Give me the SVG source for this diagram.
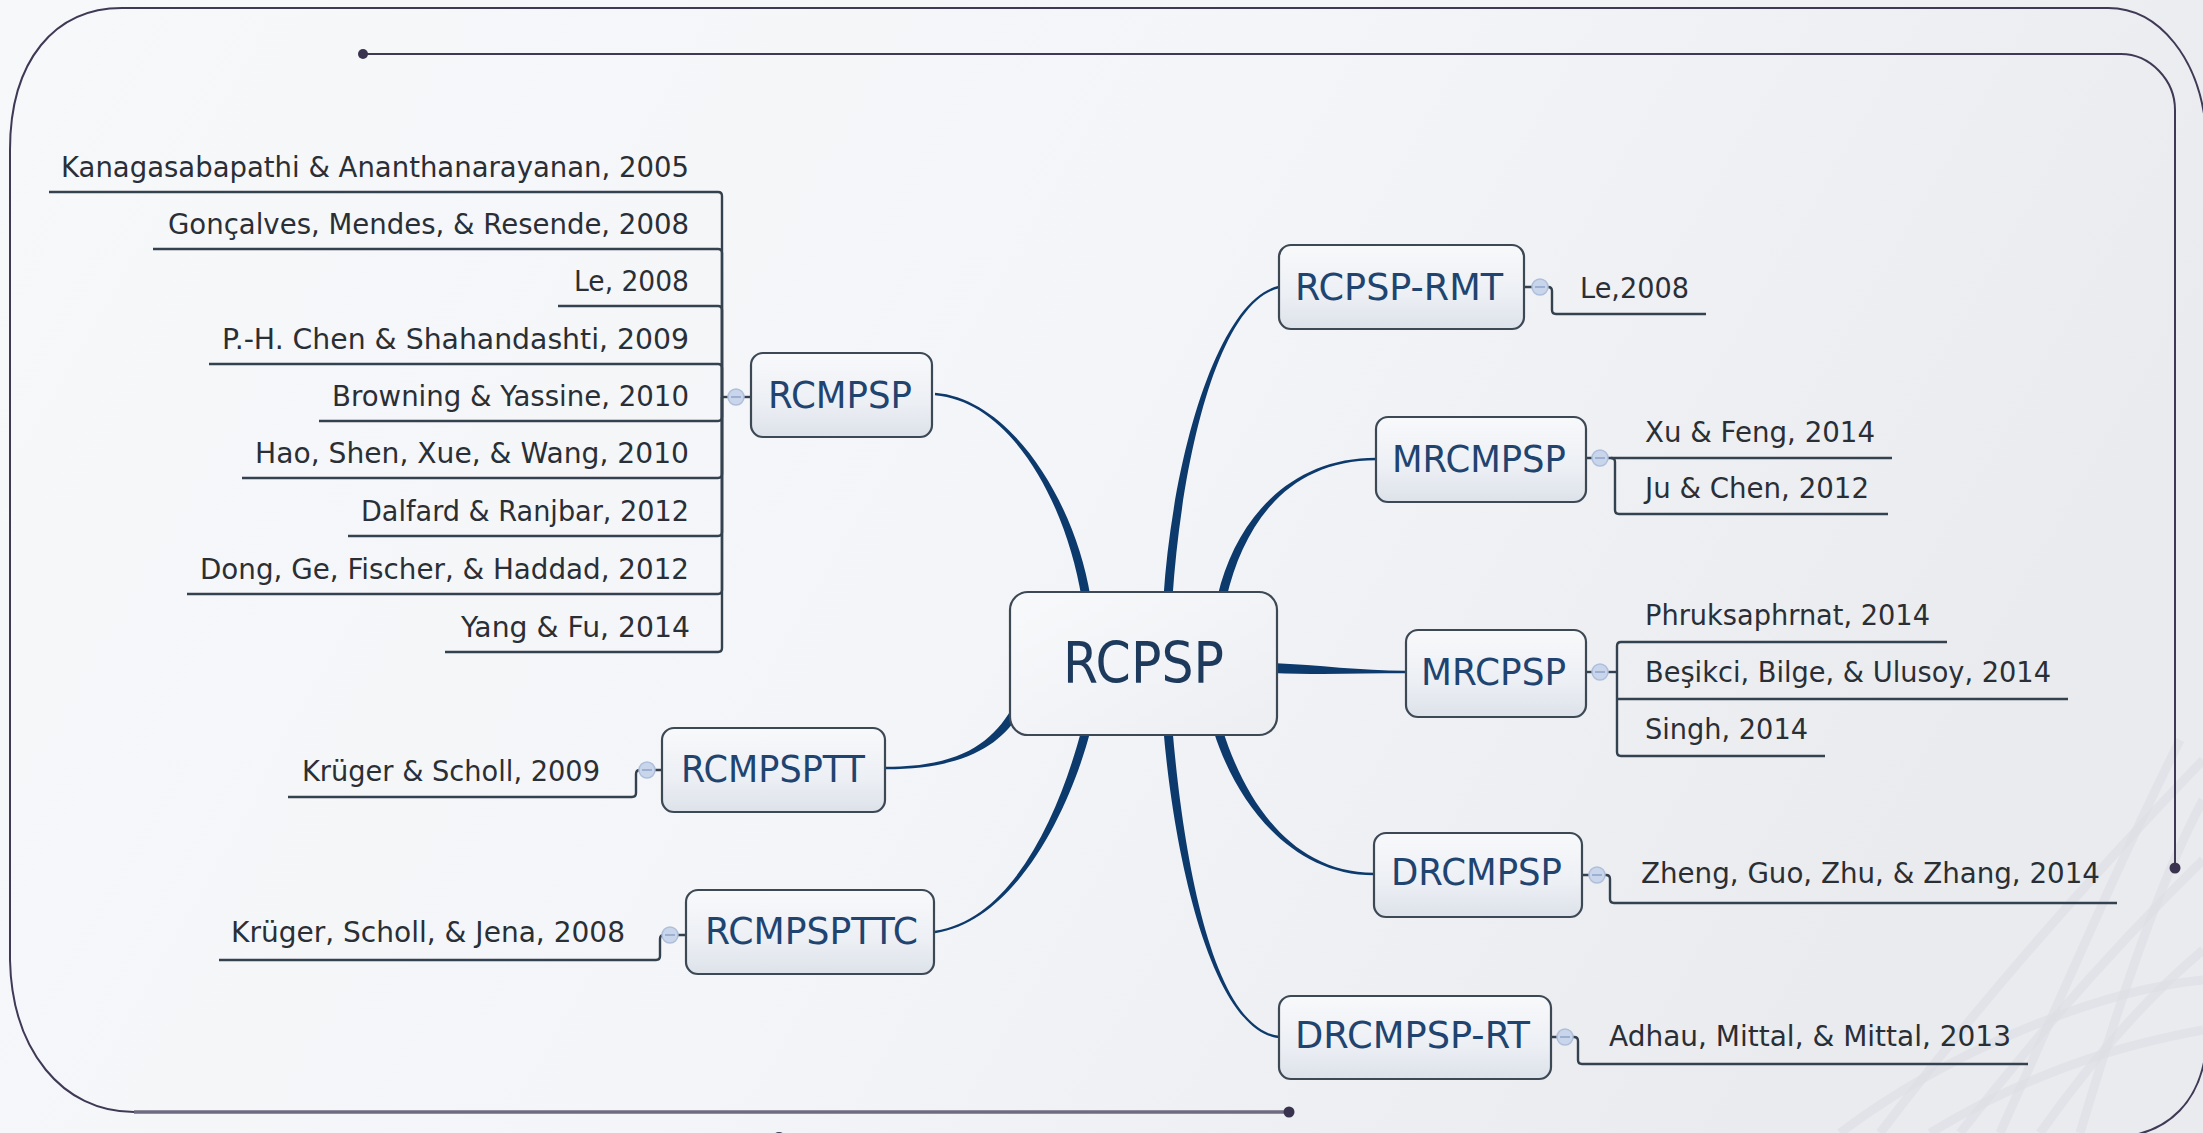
<svg xmlns="http://www.w3.org/2000/svg" width="2203" height="1133" viewBox="0 0 2203 1133">
  <defs>
    <linearGradient id="bg" x1="0" y1="0" x2="1" y2="0.3">
      <stop offset="0" stop-color="#f7f8fa"/>
      <stop offset="0.55" stop-color="#f4f5f8"/>
      <stop offset="1" stop-color="#e9ebef"/>
    </linearGradient>
    <linearGradient id="boxFill" x1="0" y1="0" x2="0" y2="1">
      <stop offset="0" stop-color="#f8f9fb"/>
      <stop offset="0.6" stop-color="#eceff4"/>
      <stop offset="1" stop-color="#dde2ea"/>
    </linearGradient>
    <linearGradient id="rootFill" x1="0" y1="0" x2="1" y2="1">
      <stop offset="0" stop-color="#f8f9fb"/>
      <stop offset="1" stop-color="#eceef2"/>
    </linearGradient>
    <g id="collapse">
      <circle r="8" fill="#c9d5ea" stroke="#aebfdc" stroke-width="1.5"/>
      <line x1="-5" y1="0" x2="5" y2="0" stroke="#8ea3c9" stroke-width="1.5"/>
    </g>
  </defs>
  <style>
    .frame { fill: none; stroke: #3f3955; stroke-width: 2; }
    .frame-bottom { fill: none; stroke: #6f6a82; stroke-width: 3.5; }
    .dot { fill: #3a3350; }
    .weave { fill: none; stroke: #dedde5; stroke-width: 9; opacity: 0.6; }
    .branch { fill: #0d3a6c; }
    .leafline { fill: none; stroke: #34414f; stroke-width: 2.4; }
    .box { fill: url(#boxFill); stroke: #3d4855; stroke-width: 2.2; }
    .root { fill: url(#rootFill); stroke: #3d4855; stroke-width: 2.2; }
    .label { font-family: "DejaVu Sans", "Liberation Sans", sans-serif; font-size: 38px; fill: #1f4470; }
    .rootlabel { font-family: "DejaVu Sans", "Liberation Sans", sans-serif; font-size: 57px; fill: #1d3a5c; }
    .leaf { font-family: "DejaVu Sans", "Liberation Sans", sans-serif; font-size: 28px; fill: #2a2f36; }
  </style>

  <!-- backdrop -->
  <rect x="0" y="0" width="2203" height="1133" fill="url(#bg)"/>
  <g id="backdrop-weave">
    <path class="weave" d="M1880,1133 Q2020,950 2203,760"/>
    <path class="weave" d="M1960,1133 Q2080,980 2203,860"/>
    <path class="weave" d="M2040,1133 Q2120,1020 2203,950"/>
    <path class="weave" d="M1840,1133 C1950,1050 2100,990 2203,980"/>
    <path class="weave" d="M1930,1133 C2050,1060 2150,1040 2203,1030"/>
    <path class="weave" d="M2080,1133 C2120,1000 2160,880 2203,800"/>
    <path class="weave" d="M2000,1133 C2060,1000 2120,860 2180,740"/>
  </g>

  <!-- decorative frame -->
  <g id="frame">
    <path class="frame" d="M1289,1112 H134 C62,1112 12,1050 10,960 V150 C10,60 55,8 122,8 H2108 C2160,8 2200,60 2206,130 V1050 C2200,1100 2170,1133 2120,1137"/>
    <path class="frame-bottom" d="M1289,1112 H134"/>
    <path class="frame" d="M363,54 H2121 C2150,54 2175,80 2175,110 V868"/>
    <circle class="dot" cx="1289" cy="1112" r="5.5"/>
    <circle class="dot" cx="363" cy="54" r="5"/>
    <circle class="dot" cx="2175" cy="868" r="5.5"/>
    <circle class="dot" cx="779" cy="1139" r="7"/>
  </g>

  <!-- connectors -->
  <g id="connectors">
    <!-- tapered main branches from the root -->
    <path class="branch" d="M1090.4,596.3 C1074.4,499.3 1010.1,398.8 935.1,392.8 L934.9,395.3 C1009.9,401.3 1065.6,500.7 1081.6,597.7 Z"/>
    <path class="branch" d="M1011.2,709.7 C991.2,742.7 960,766.8 886,766.8 L886,769.3 C960,769.3 998.9,747.3 1018.9,714.3 Z"/>
    <path class="branch" d="M1081.7,728.9 C1060.7,808.9 1014.8,918.8 934.8,930.8 L935.2,933.2 C1015.2,921.2 1069.4,811.1 1090.4,731.1 Z"/>
    <path class="branch" d="M1163.5,730.4 C1175.5,870.4 1214.9,1031.2 1278.9,1038.2 L1279.1,1035.8 C1215.1,1028.8 1184.5,869.6 1172.5,729.6 Z"/>
    <path class="branch" d="M1213.7,731.4 C1235.7,801.4 1290,875.3 1374,875.3 L1374,872.8 C1290,872.8 1244.3,798.7 1222.3,728.7 Z"/>
    <path class="branch" d="M1271.8,673 C1319.8,675 1360,673.3 1406,673.3 L1406,670.8 C1360,670.8 1320.2,665 1272.2,663 Z"/>
    <path class="branch" d="M1226.4,598 C1244.4,521 1290,460.3 1376,460.3 L1376,457.8 C1290,457.8 1235.6,519 1217.6,596 Z"/>
    <path class="branch" d="M1172.5,597.3 C1182.5,450.3 1220.3,301.2 1279.3,288.2 L1278.7,285.8 C1219.7,298.8 1173.5,449.7 1163.5,596.7 Z"/>

    <!-- RCMPSP leaf brackets -->
    <path class="leafline" d="M722,397 H751"/>
    <path class="leafline" d="M49,192 H718 Q722,192 722,196 V397"/>
    <path class="leafline" d="M153,249 H718 Q722,249 722,253 V397"/>
    <path class="leafline" d="M558,306 H718 Q722,306 722,310 V397"/>
    <path class="leafline" d="M209,364 H718 Q722,364 722,368 V397"/>
    <path class="leafline" d="M319,421 H718 Q722,421 722,417 V397"/>
    <path class="leafline" d="M242,478 H718 Q722,478 722,474 V397"/>
    <path class="leafline" d="M348,536 H718 Q722,536 722,532 V397"/>
    <path class="leafline" d="M187,594 H718 Q722,594 722,590 V397"/>
    <path class="leafline" d="M445,652 H718 Q722,652 722,648 V397"/>

    <!-- RCMPSPTT / RCMPSPTTC leaf brackets -->
    <path class="leafline" d="M662,770 H640 Q636,770 636,774 V793 Q636,797 632,797 H288"/>
    <path class="leafline" d="M686,935 H664 Q660,935 660,939 V956 Q660,960 656,960 H219"/>

    <!-- right-hand leaf brackets -->
    <path class="leafline" d="M1524,287 H1548 Q1552,287 1552,291 V310 Q1552,314 1556,314 H1706"/>
    <path class="leafline" d="M1586,458 H1892"/>
    <path class="leafline" d="M1611,458 Q1615,458 1615,462 V510 Q1615,514 1619,514 H1888"/>
    <path class="leafline" d="M1586,672 H1617"/>
    <path class="leafline" d="M1947,642 H1621 Q1617,642 1617,646 V752 Q1617,756 1621,756 H1825"/>
    <path class="leafline" d="M1617,699 H2068"/>
    <path class="leafline" d="M1582,875 H1606 Q1610,875 1610,879 V899 Q1610,903 1614,903 H2117"/>
    <path class="leafline" d="M1551,1037 H1574 Q1578,1037 1578,1041 V1060 Q1578,1064 1582,1064 H2028"/>
  </g>

  <!-- root topic -->
  <g id="node-rcpsp">
    <rect class="root" x="1010" y="592" width="267" height="143" rx="18"/>
    <text class="rootlabel" x="1063" y="683" textLength="161" lengthAdjust="spacingAndGlyphs">RCPSP</text>
  </g>

  <!-- main topics -->
  <g id="node-rcmpsp">
    <rect class="box" x="751" y="353" width="181" height="84" rx="12"/>
    <text class="label" x="768" y="408" textLength="144" lengthAdjust="spacingAndGlyphs">RCMPSP</text>
    <use href="#collapse" x="736" y="397"/>
  </g>
  <g id="node-rcmpsptt">
    <rect class="box" x="662" y="728" width="223" height="84" rx="12"/>
    <text class="label" x="681" y="782" textLength="184" lengthAdjust="spacingAndGlyphs">RCMPSPTT</text>
    <use href="#collapse" x="647" y="770"/>
  </g>
  <g id="node-rcmpspttc">
    <rect class="box" x="686" y="890" width="248" height="84" rx="12"/>
    <text class="label" x="705" y="944" textLength="213" lengthAdjust="spacingAndGlyphs">RCMPSPTTC</text>
    <use href="#collapse" x="670" y="935"/>
  </g>
  <g id="node-rcpsp-rmt">
    <rect class="box" x="1279" y="245" width="245" height="84" rx="12"/>
    <text class="label" x="1295" y="300" textLength="208" lengthAdjust="spacingAndGlyphs">RCPSP-RMT</text>
    <use href="#collapse" x="1540" y="287"/>
  </g>
  <g id="node-mrcmpsp">
    <rect class="box" x="1376" y="417" width="210" height="85" rx="12"/>
    <text class="label" x="1392" y="472" textLength="174" lengthAdjust="spacingAndGlyphs">MRCMPSP</text>
    <use href="#collapse" x="1600" y="458"/>
  </g>
  <g id="node-mrcpsp">
    <rect class="box" x="1406" y="630" width="180" height="87" rx="12"/>
    <text class="label" x="1421" y="685" textLength="145" lengthAdjust="spacingAndGlyphs">MRCPSP</text>
    <use href="#collapse" x="1600" y="672"/>
  </g>
  <g id="node-drcmpsp">
    <rect class="box" x="1374" y="833" width="208" height="84" rx="12"/>
    <text class="label" x="1391" y="885" textLength="171" lengthAdjust="spacingAndGlyphs">DRCMPSP</text>
    <use href="#collapse" x="1597" y="875"/>
  </g>
  <g id="node-drcmpsp-rt">
    <rect class="box" x="1279" y="996" width="272" height="83" rx="12"/>
    <text class="label" x="1295" y="1048" textLength="235" lengthAdjust="spacingAndGlyphs">DRCMPSP-RT</text>
    <use href="#collapse" x="1565" y="1037"/>
  </g>

  <!-- RCMPSP references -->
  <g id="leaf-kanagasabapathi-2005"><text class="leaf" x="61" y="177" textLength="628" lengthAdjust="spacingAndGlyphs">Kanagasabapathi &amp; Ananthanarayanan, 2005</text></g>
  <g id="leaf-goncalves-2008"><text class="leaf" x="168" y="234" textLength="521" lengthAdjust="spacingAndGlyphs">Gonçalves, Mendes, &amp; Resende, 2008</text></g>
  <g id="leaf-le-2008"><text class="leaf" x="574" y="291" textLength="115" lengthAdjust="spacingAndGlyphs">Le, 2008</text></g>
  <g id="leaf-chen-2009"><text class="leaf" x="222" y="349" textLength="467" lengthAdjust="spacingAndGlyphs">P.-H. Chen &amp; Shahandashti, 2009</text></g>
  <g id="leaf-browning-2010"><text class="leaf" x="332" y="406" textLength="357" lengthAdjust="spacingAndGlyphs">Browning &amp; Yassine, 2010</text></g>
  <g id="leaf-hao-2010"><text class="leaf" x="255" y="463" textLength="434" lengthAdjust="spacingAndGlyphs">Hao, Shen, Xue, &amp; Wang, 2010</text></g>
  <g id="leaf-dalfard-2012"><text class="leaf" x="361" y="521" textLength="328" lengthAdjust="spacingAndGlyphs">Dalfard &amp; Ranjbar, 2012</text></g>
  <g id="leaf-dong-2012"><text class="leaf" x="200" y="579" textLength="489" lengthAdjust="spacingAndGlyphs">Dong, Ge, Fischer, &amp; Haddad, 2012</text></g>
  <g id="leaf-yang-2014"><text class="leaf" x="461" y="637" textLength="229" lengthAdjust="spacingAndGlyphs">Yang &amp; Fu, 2014</text></g>

  <!-- transfer-time references -->
  <g id="leaf-kruger-2009"><text class="leaf" x="302" y="781" textLength="298" lengthAdjust="spacingAndGlyphs">Krüger &amp; Scholl, 2009</text></g>
  <g id="leaf-kruger-2008"><text class="leaf" x="231" y="942" textLength="394" lengthAdjust="spacingAndGlyphs">Krüger, Scholl, &amp; Jena, 2008</text></g>

  <!-- right-hand references -->
  <g id="leaf-le-2008-rmt"><text class="leaf" x="1580" y="298" textLength="109" lengthAdjust="spacingAndGlyphs">Le,2008</text></g>
  <g id="leaf-xu-2014"><text class="leaf" x="1645" y="442" textLength="230" lengthAdjust="spacingAndGlyphs">Xu &amp; Feng, 2014</text></g>
  <g id="leaf-ju-2012"><text class="leaf" x="1645" y="498" textLength="224" lengthAdjust="spacingAndGlyphs">Ju &amp; Chen, 2012</text></g>
  <g id="leaf-phruksaphrnat-2014"><text class="leaf" x="1645" y="625" textLength="285" lengthAdjust="spacingAndGlyphs">Phruksaphrnat, 2014</text></g>
  <g id="leaf-besikci-2014"><text class="leaf" x="1645" y="682" textLength="406" lengthAdjust="spacingAndGlyphs">Beşikci, Bilge, &amp; Ulusoy, 2014</text></g>
  <g id="leaf-singh-2014"><text class="leaf" x="1645" y="739" textLength="163" lengthAdjust="spacingAndGlyphs">Singh, 2014</text></g>
  <g id="leaf-zheng-2014"><text class="leaf" x="1641" y="883" textLength="459" lengthAdjust="spacingAndGlyphs">Zheng, Guo, Zhu, &amp; Zhang, 2014</text></g>
  <g id="leaf-adhau-2013"><text class="leaf" x="1609" y="1046" textLength="402" lengthAdjust="spacingAndGlyphs">Adhau, Mittal, &amp; Mittal, 2013</text></g>
</svg>
